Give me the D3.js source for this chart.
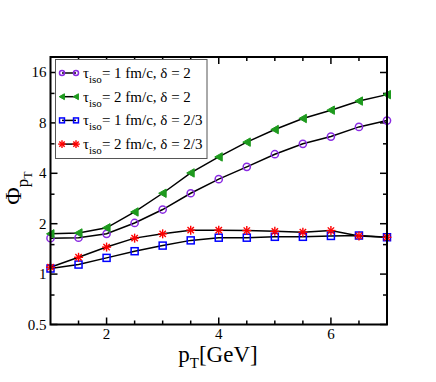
<!DOCTYPE html>
<html>
<head>
<meta charset="utf-8">
<script src="https://cdn.jsdelivr.net/npm/d3@7"></script>
<style>
  body { margin: 0; background: #fff; }
</style>
</head>
<body>
<div id="chart"></div>
<script>
(function(){
    // data
    var pt = [1, 1.5, 2, 2.5, 3, 3.5, 4, 4.5, 5, 5.5, 6, 6.5, 7];
    var tau1Delta2   = [1.64, 1.65, 1.74, 2.02, 2.43, 3.04, 3.69, 4.37, 5.2, 6.0, 6.63, 7.57, 8.26];
    var tau2Delta2   = [1.74, 1.76, 1.89, 2.35, 3.04, 4.02, 5.01, 6.14, 7.3, 8.5, 9.53, 10.8, 11.8];
    var tau1Delta23  = [1.08, 1.14, 1.25, 1.37, 1.48, 1.59, 1.65, 1.65, 1.67, 1.67, 1.69, 1.70, 1.66];
    var tau2Delta23  = [1.10, 1.26, 1.45, 1.64, 1.74, 1.83, 1.83, 1.82, 1.80, 1.78, 1.82, 1.69, 1.66];
    var seriesNames  = ['= 1 fm/c, \u03b4 = 2', '= 2 fm/c, \u03b4 = 2', '= 1 fm/c, \u03b4 = 2/3', '= 2 fm/c, \u03b4 = 2/3'];
    var xTickLabels  = [2, 4, 6];
    var yTickLabels  = [0.5, 1, 2, 4, 8, 16];
    var yMinorTicks  = [0.75, 1.5, 3, 6, 12];

    var FONT = '"Liberation Serif", "DejaVu Serif", serif';

    var WIDTH  = 436,
        HEIGHT = 382,
        LEFT   = 50.5,
        RIGHT  = 387,
        TOP    = 57,
        BOTTOM = 324.5;

    var series = [
        { name: seriesNames[0], values: tau1Delta2,  color: '#8a2be2', shape: 'circle' },
        { name: seriesNames[1], values: tau2Delta2,  color: '#1e9a1e', shape: 'triangle' },
        { name: seriesNames[2], values: tau1Delta23, color: '#0000ff', shape: 'square' },
        { name: seriesNames[3], values: tau2Delta23, color: '#ff0000', shape: 'star' }
    ];

    var svg = d3.select('#chart').append('svg')
        .attr('width', WIDTH)
        .attr('height', HEIGHT)
        .attr('font-family', FONT);

    var x = d3.scaleLinear().domain([1, 7]).range([LEFT, RIGHT]);
    var y = d3.scaleLog().base(2).domain([0.5, 19.8]).range([BOTTOM, TOP]);

    // axes with inward ticks
    var xMinor = d3.range(1.5, 7, 0.5);
    var axes = svg.append('g').attr('stroke', '#000').attr('stroke-width', 1.5);

    function xTicks(vals, len){
        vals.forEach(function(v){
            axes.append('line').attr('x1', x(v)).attr('x2', x(v))
                .attr('y1', BOTTOM).attr('y2', BOTTOM - len);
            axes.append('line').attr('x1', x(v)).attr('x2', x(v))
                .attr('y1', TOP).attr('y2', TOP + len);
        });
    }
    function yTicks(vals, len){
        vals.forEach(function(v){
            axes.append('line').attr('y1', y(v)).attr('y2', y(v))
                .attr('x1', LEFT).attr('x2', LEFT + len);
            axes.append('line').attr('y1', y(v)).attr('y2', y(v))
                .attr('x1', RIGHT).attr('x2', RIGHT - len);
        });
    }
    xTicks(xMinor.filter(function(d){ return xTickLabels.indexOf(d) < 0; }), 4);
    xTicks(xTickLabels, 7);
    yTicks(yMinorTicks, 4);
    yTicks(yTickLabels, 7);

    // data lines
    var line = d3.line()
        .x(function(d, i){ return x(pt[i]); })
        .y(function(d){ return y(d); });

    series.forEach(function(s){
        svg.append('path')
            .attr('d', line(s.values))
            .attr('fill', 'none')
            .attr('stroke', '#000')
            .attr('stroke-width', 1.5);
    });

    function marker(g, s, cx, cy, sz){
        var c = s.color;
        if(s.shape === 'circle'){
            g.append('circle').attr('cx', cx).attr('cy', cy).attr('r', 3.6 * sz)
                .attr('fill', 'none').attr('stroke', c).attr('stroke-width', 1.5);
        } else if(s.shape === 'triangle'){
            g.append('path')
                .attr('d', 'M' + (cx - 4 * sz) + ',' + cy + 'L' + (cx + 3.5 * sz) + ',' + (cy - 4.2 * sz) + 'L' + (cx + 3.5 * sz) + ',' + (cy + 4.2 * sz) + 'Z')
                .attr('fill', c).attr('stroke', c).attr('stroke-width', 1);
        } else if(s.shape === 'square'){
            g.append('rect').attr('x', cx - 3.5 * sz).attr('y', cy - 3.5 * sz)
                .attr('width', 7 * sz).attr('height', 7 * sz)
                .attr('fill', 'none').attr('stroke', c).attr('stroke-width', 1.5);
        } else {
            var r = 4.5 * Math.max(sz, 0.85);
            for(var k = 0; k < 4; k++){
                var a = k * Math.PI / 4;
                g.append('line')
                    .attr('x1', cx - r * Math.cos(a)).attr('y1', cy - r * Math.sin(a))
                    .attr('x2', cx + r * Math.cos(a)).attr('y2', cy + r * Math.sin(a))
                    .attr('stroke', c).attr('stroke-width', 1.4);
            }
        }
    }

    series.forEach(function(s){
        var g = svg.append('g');
        s.values.forEach(function(v, i){
            marker(g, s, x(pt[i]), y(v), 1);
        });
    });

    // frame
    svg.append('rect')
        .attr('x', LEFT).attr('y', TOP)
        .attr('width', RIGHT - LEFT).attr('height', BOTTOM - TOP)
        .attr('fill', 'none').attr('stroke', '#000').attr('stroke-width', 2);

    // tick labels
    svg.append('g').selectAll('text')
        .data(xTickLabels).enter().append('text')
        .attr('x', function(d){ return x(d); })
        .attr('y', BOTTOM + 14)
        .attr('text-anchor', 'middle')
        .attr('font-size', 15)
        .text(function(d){ return d; });

    svg.append('g').selectAll('text')
        .data(yTickLabels).enter().append('text')
        .attr('x', LEFT - 4)
        .attr('y', function(d){ return y(d) + 5; })
        .attr('text-anchor', 'end')
        .attr('font-size', 15)
        .text(function(d){ return d; });

    // axis titles
    var xt = svg.append('text')
        .attr('x', 218).attr('y', 362)
        .attr('text-anchor', 'middle')
        .attr('font-size', 23);
    xt.append('tspan').text('p');
    xt.append('tspan').attr('font-size', 15).attr('dy', 6).text('T');
    xt.append('tspan').attr('dy', -6).text('[GeV]');

    var yt = svg.append('text')
        .attr('transform', 'translate(21,188) rotate(-90)')
        .attr('text-anchor', 'middle')
        .attr('font-size', 24);
    yt.append('tspan').text('\u03a6');
    yt.append('tspan').attr('font-size', 17).attr('dy', 7).text('p');
    yt.append('tspan').attr('font-size', 12).attr('dy', 4).text('T');

    // legend
    var LEG_X = 55.5, LEG_Y = 59.5, LEG_W = 151.5, LEG_H = 99, ROW = 23.7;
    var legend = svg.append('g');
    legend.append('rect')
        .attr('x', LEG_X).attr('y', LEG_Y)
        .attr('width', LEG_W).attr('height', LEG_H)
        .attr('fill', '#fff').attr('stroke', '#555').attr('stroke-width', 1);

    series.forEach(function(s, i){
        var ry = LEG_Y + 13.5 + i * ROW;
        legend.append('line')
            .attr('x1', 62).attr('x2', 76)
            .attr('y1', ry).attr('y2', ry)
            .attr('stroke', '#000').attr('stroke-width', 1.5);
        marker(legend, s, 62, ry, 0.7);
        marker(legend, s, 76, ry, 0.7);
        var t = legend.append('text')
            .attr('x', 83).attr('y', ry + 5)
            .attr('font-size', 15);
        t.append('tspan').text('\u03c4');
        t.append('tspan').attr('font-size', 11).attr('dy', 5).text('iso');
        t.append('tspan').attr('dy', -5).text(s.name);
    });
})();
</script>
</body>
</html>
